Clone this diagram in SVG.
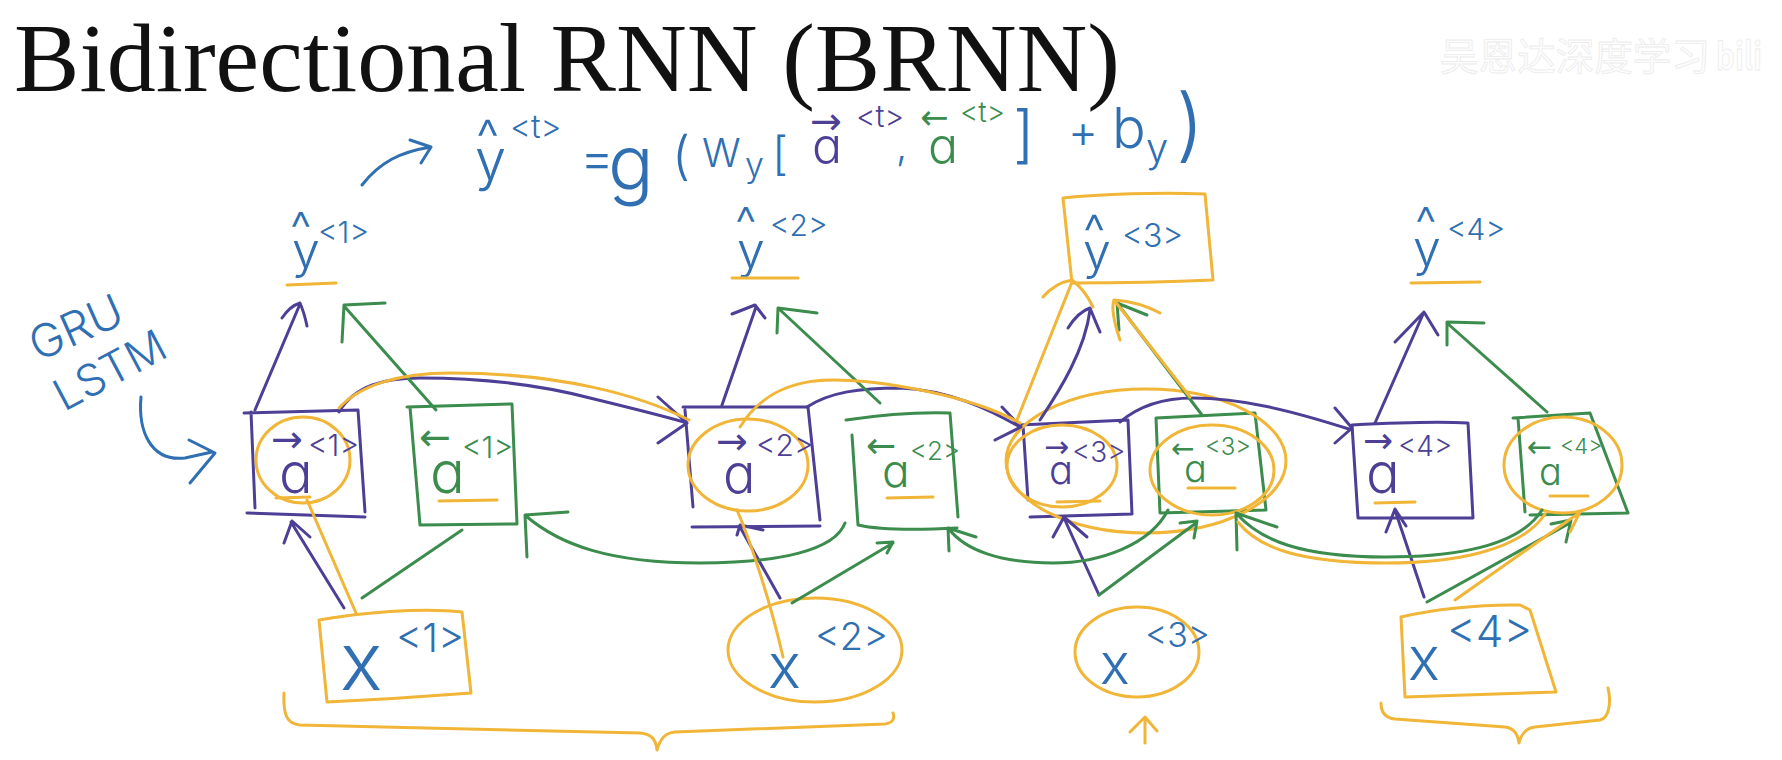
<svg xmlns="http://www.w3.org/2000/svg" width="1782" height="760" viewBox="0 0 1782 760">
<style>
.s{fill:none;stroke-width:3;stroke-linecap:round;stroke-linejoin:round}
.p{stroke:#4d3f96}.g{stroke:#3b8c4d}.o{stroke:#f1b538}.b{stroke:#2f6fb2}
.h{font-family:Inter,"Liberation Sans",Arial,sans-serif;font-weight:300;font-feature-settings:"cv11"}
.ar{font-family:"DejaVu Sans",sans-serif;font-weight:normal}
.tp{fill:#4d3f96}.tg{fill:#3b8c4d}.tb{fill:#2f6fb2}
.title{font-family:"Liberation Serif","Times New Roman",serif;fill:#111}
.wm{font-family:"Noto Sans CJK SC",sans-serif;fill:#fdfdfd;stroke:#ececec;stroke-width:0.8}
</style>
<rect width="1782" height="760" fill="#ffffff"/>

<text class="title" x="14" y="91" font-size="98" textLength="1106" lengthAdjust="spacingAndGlyphs">Bidirectional RNN (BRNN)</text>
<text class="wm" x="1440" y="70" font-size="38" textLength="270" lengthAdjust="spacingAndGlyphs">吴恩达深度学习</text>
<text class="wm" x="1716" y="70" font-size="38" font-weight="bold" textLength="46" lengthAdjust="spacingAndGlyphs">bili</text>

<!-- formula -->
<g id="formula">
  <path class="s b" d="M362,185 C380,162 400,152 431,147 M410,140 L431,147 L421,163"/>
  <text class="h tb"><tspan x="476" y="156" font-size="52">^</tspan><tspan x="475" y="180" font-size="56">y</tspan><tspan x="510" y="138" font-size="32">&lt;t&gt;</tspan><tspan x="580" y="176" font-size="52">=</tspan><tspan x="608" y="190" font-size="76">g</tspan><tspan x="672" y="174" font-size="52">(</tspan><tspan x="702" y="167" font-size="40">W</tspan><tspan x="745" y="177" font-size="34">y</tspan><tspan x="772" y="170" font-size="46">[</tspan><tspan class="tp" x="812" y="163" font-size="50">a</tspan><tspan class="tp ar" x="810" y="134" font-size="38">→</tspan><tspan class="tp" x="856" y="127" font-size="30">&lt;t&gt;</tspan><tspan x="896" y="160" font-size="40">,</tspan><tspan class="tg" x="928" y="163" font-size="50">a</tspan><tspan class="tg ar" x="920" y="129" font-size="34">←</tspan><tspan class="tg" x="960" y="122" font-size="28">&lt;t&gt;</tspan><tspan x="1013" y="156" font-size="62">]</tspan><tspan x="1068" y="148" font-size="46">+</tspan><tspan x="1112" y="148" font-size="56">b</tspan><tspan x="1146" y="162" font-size="40">y</tspan><tspan x="1176" y="152" font-size="80">)</tspan></text>
</g>

<!-- GRU / LSTM note -->
<g id="note">
  <text class="h tb" x="38" y="362" font-size="46" transform="rotate(-24 38 362)">GRU</text>
  <text class="h tb" x="64" y="412" font-size="44" transform="rotate(-28 64 412)">LSTM</text>
  <path class="s b" d="M141,397 C138,430 150,462 185,458 L212,452 M189,440 L215,453 L190,483"/>
</g>

<!-- outputs -->
<g id="yhat1">
  <text class="h tb"><tspan x="290" y="246" font-size="48">^</tspan><tspan x="292" y="268" font-size="50">y</tspan><tspan x="318" y="243" font-size="30">&lt;1&gt;</tspan></text>
  <path class="s o" d="M287,285 L336,283"/>
</g>
<g id="yhat2">
  <text class="h tb"><tspan x="735" y="241" font-size="48">^</tspan><tspan x="737" y="268" font-size="50">y</tspan><tspan x="770" y="236" font-size="30">&lt;2&gt;</tspan></text>
  <path class="s o" d="M732,278 L798,278"/>
</g>
<g id="yhat3">
  <path class="s o" d="M1063,198 C1100,194 1160,192 1205,194 L1213,280 C1170,282 1110,283 1072,283 L1063,198"/>
  <text class="h tb"><tspan x="1083" y="250" font-size="50">^</tspan><tspan x="1083" y="269" font-size="50">y</tspan><tspan x="1122" y="247" font-size="32">&lt;3&gt;</tspan></text>
</g>
<g id="yhat4">
  <text class="h tb"><tspan x="1415" y="241" font-size="48">^</tspan><tspan x="1413" y="266" font-size="50">y</tspan><tspan x="1447" y="240" font-size="30">&lt;4&gt;</tspan></text>
  <path class="s o" d="M1411,283 L1480,282"/>
</g>

<!-- activations -->
<g id="af1">
  <path class="s p" d="M244,413 L358,410 L365,512 M251,412 L255,508 M247,513 L365,517"/>
  <ellipse class="s o" cx="303" cy="460" rx="47" ry="43"/>
  <text class="h tp"><tspan class="ar" x="271" y="452" font-size="38">→</tspan><tspan x="308" y="456" font-size="30">&lt;1&gt;</tspan><tspan x="279" y="493" font-size="56">a</tspan></text>
  <path class="s o" d="M276,498 L310,497"/>
</g>
<g id="ab1">
  <path class="s g" d="M407,407 L512,404 L517,524 L420,525 L410,407"/>
  <text class="h tg"><tspan class="ar" x="419" y="450" font-size="38">←</tspan><tspan x="462" y="458" font-size="30">&lt;1&gt;</tspan><tspan x="430" y="493" font-size="58">a</tspan></text>
  <path class="s o" d="M439,501 L497,500"/>
</g>
<g id="af2">
  <path class="s p" d="M683,407 L808,407 L820,520 M685,410 L693,507 M692,527 L820,526"/>
  <ellipse class="s o" cx="748" cy="465" rx="60" ry="46"/>
  <text class="h tp"><tspan class="ar" x="716" y="454" font-size="38">→</tspan><tspan x="756" y="456" font-size="30">&lt;2&gt;</tspan><tspan x="723" y="493" font-size="54">a</tspan></text>
</g>
<g id="ab2">
  <path class="s g" d="M846,420 C880,415 920,412 950,413 L958,517 M852,435 L858,525 C880,530 920,530 957,528"/>
  <text class="h tg"><tspan class="ar" x="866" y="458" font-size="36">←</tspan><tspan x="910" y="460" font-size="26">&lt;2&gt;</tspan><tspan x="882" y="487" font-size="46">a</tspan></text>
  <path class="s o" d="M887,498 L933,497"/>
</g>
<g id="af3">
  <path class="s p" d="M1020,425 L1128,420 L1132,514 L1030,517 M1023,425 L1028,500"/>
  <ellipse class="s o" cx="1062" cy="466" rx="55" ry="41"/>
  <text class="h tp"><tspan class="ar" x="1044" y="457" font-size="30">→</tspan><tspan x="1072" y="462" font-size="28">&lt;3&gt;</tspan><tspan x="1049" y="484" font-size="40">a</tspan></text>
  <path class="s o" d="M1057,502 L1100,501"/>
</g>
<g id="ab3">
  <path class="s g" d="M1156,418 L1255,413 L1266,510 L1160,513 Z"/>
  <ellipse class="s o" cx="1212" cy="470" rx="62" ry="45"/>
  <text class="h tg"><tspan class="ar" x="1171" y="458" font-size="28">←</tspan><tspan x="1205" y="455" font-size="24">&lt;3&gt;</tspan><tspan x="1184" y="482" font-size="38">a</tspan></text>
  <path class="s o" d="M1188,488 L1235,488"/>
</g>
<g id="pair3">
  <ellipse class="s o" cx="1146" cy="461" rx="140" ry="72"/>
</g>
<g id="af4">
  <path class="s p" d="M1352,425 C1390,423 1430,421 1468,423 L1473,518 L1358,518 L1352,425"/>
  <text class="h tp"><tspan class="ar" x="1363" y="453" font-size="36">→</tspan><tspan x="1398" y="456" font-size="28">&lt;4&gt;</tspan><tspan x="1366" y="493" font-size="56">a</tspan></text>
  <path class="s o" d="M1375,503 L1415,502"/>
</g>
<g id="ab4">
  <path class="s g" d="M1513,418 L1590,413 L1628,513 L1530,515 M1518,418 L1525,512"/>
  <ellipse class="s o" cx="1563" cy="465" rx="59" ry="48"/>
  <text class="h tg"><tspan class="ar" x="1527" y="457" font-size="30">←</tspan><tspan x="1560" y="454" font-size="22">&lt;4&gt;</tspan><tspan x="1539" y="485" font-size="38">a</tspan></text>
  <path class="s o" d="M1550,496 L1588,496"/>
</g>

<!-- inputs -->
<g id="x1">
  <path class="s o" d="M319,620 C360,613 420,607 462,612 L471,693 C420,697 370,700 327,702 Z"/>
  <text class="h tb"><tspan x="340" y="690" font-size="80">x</tspan><tspan x="396" y="652" font-size="40">&lt;1&gt;</tspan></text>
</g>
<g id="x2">
  <ellipse class="s o" cx="815" cy="650" rx="87" ry="52"/>
  <text class="h tb"><tspan x="768" y="688" font-size="62">x</tspan><tspan x="815" y="650" font-size="38">&lt;2&gt;</tspan></text>
</g>
<g id="x3">
  <ellipse class="s o" cx="1137" cy="652" rx="62" ry="45"/>
  <text class="h tb"><tspan x="1100" y="684" font-size="56">x</tspan><tspan x="1145" y="647" font-size="34">&lt;3&gt;</tspan></text>
</g>
<g id="x4">
  <path class="s o" d="M1401,617 C1430,610 1480,604 1520,605 L1530,610 L1556,692 L1405,697 Z"/>
  <text class="h tb"><tspan x="1408" y="680" font-size="60">x</tspan><tspan x="1447" y="647" font-size="44">&lt;4&gt;</tspan></text>
</g>

<!-- connectors -->
<g id="connectors">
  <path class="s p" d="M255,410 L300,304 M282,318 Q290,306 300,303 Q304,312 307,326"/>
  <path class="s p" d="M722,405 L756,307 M732,314 L755,305 L765,318"/>
  <path class="s p" d="M1040,420 C1060,390 1085,350 1090,310 M1068,328 Q1078,312 1090,308 Q1094,318 1100,332"/>
  <path class="s p" d="M1375,423 L1424,312 M1395,342 L1424,312 L1438,335"/>
  <path class="s p" d="M344,608 L291,522 M284,543 L292,521 L310,537"/>
  <path class="s p" d="M780,598 L740,527 M737,535 L740,525 L763,530"/>
  <path class="s p" d="M1099,595 L1064,518 M1053,537 L1064,517 L1087,537"/>
  <path class="s p" d="M1424,597 L1395,510 M1386,532 L1395,509 L1406,526"/>
  <path class="s p" d="M339,412 C355,385 385,378 420,378 C480,378 540,385 590,398 C630,408 660,415 687,423 M658,397 L687,423 L658,443"/>
  <path class="s p" d="M807,407 C830,392 860,388 900,388 C950,390 990,410 1020,427 M1002,407 L1021,427 L995,440"/>
  <path class="s p" d="M1120,422 C1140,405 1165,398 1193,398 C1240,398 1290,410 1352,430 M1335,408 L1352,428 L1335,443"/>
  <path class="s g" d="M436,410 L344,306 M342,342 L344,305 L385,303"/>
  <path class="s g" d="M880,403 L778,308 M777,333 L778,308 L817,313"/>
  <path class="s g" d="M1202,415 L1117,303 M1147,315 L1117,303 L1119,330"/>
  <path class="s g" d="M1547,412 L1447,323 M1447,345 L1447,322 L1484,323"/>
  <path class="s g" d="M362,598 L462,530"/>
  <path class="s g" d="M792,603 L893,543 M877,543 L893,542 L887,553"/>
  <path class="s g" d="M1099,595 L1196,523 M1180,523 L1197,521 L1194,538"/>
  <path class="s g" d="M1427,602 L1570,523 M1551,524 L1571,520 L1566,542"/>
  <path class="s g" d="M845,523 C835,550 780,563 700,563 C610,563 560,545 526,516 M527,557 L525,515 L568,512"/>
  <path class="s g" d="M1168,510 C1150,545 1100,563 1053,563 C1000,563 965,550 949,529 M949,551 L948,528 L976,537"/>
  <path class="s g" d="M1542,510 C1520,545 1460,557 1386,557 C1300,557 1260,540 1237,514 M1237,550 L1236,513 L1277,527"/>
  <path class="s o" d="M356,613 L307,500"/>
  <path class="s o" d="M783,657 C770,600 750,540 737,510"/>
  <path class="s o" d="M339,408 C360,385 400,373 450,373 C560,373 640,395 689,420"/>
  <path class="s o" d="M740,427 C760,395 790,380 833,380 C880,380 970,395 1020,423"/>
  <path class="s o" d="M1017,420 L1072,282 M1043,297 Q1055,283 1072,280 Q1085,290 1093,307"/>
  <path class="s o" d="M1190,397 L1114,300 M1120,340 Q1110,310 1114,300 Q1140,302 1160,313"/>
  <path class="s o" d="M1545,514 C1520,552 1450,563 1386,563 C1300,563 1258,548 1238,522"/>
  <path class="s o" d="M1455,600 L1579,513 M1570,532 L1580,512"/>
  <path class="s o" d="M1145,743 L1145,718 M1130,732 L1145,717 L1157,731"/>
  <path class="s o" d="M284,693 C283,715 287,724 300,725 L640,733 C652,734 656,740 657,750 C660,740 664,733 675,732 L885,724 C893,723 895,718 893,713"/>
  <path class="s o" d="M1381,703 C1381,712 1385,718 1395,719 L1505,727 C1514,728 1518,735 1519,743 C1521,735 1525,728 1535,727 L1600,720 C1610,718 1611,700 1608,688"/>
</g>
</svg>
